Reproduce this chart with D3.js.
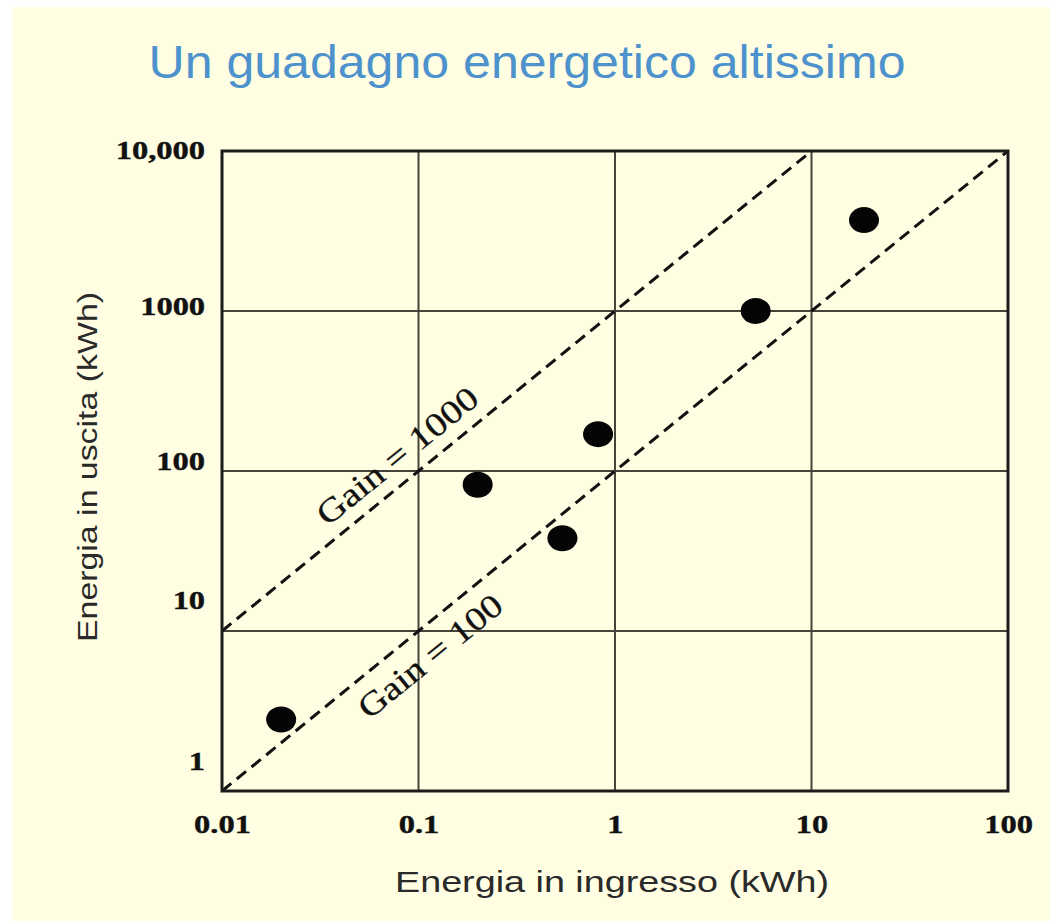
<!DOCTYPE html>
<html>
<head>
<meta charset="utf-8">
<script src="https://cdn.jsdelivr.net/npm/d3@7"></script>
<style>
  body { margin: 0; background: #ffffff; }
  svg { display: block; }
  .tick-label { font-family: "Liberation Serif", "DejaVu Serif", serif; font-weight: bold; font-size: 25px; fill: #111; stroke: #111; stroke-width: 0.4px; }
  .axis-title { font-family: "Liberation Sans", Arial, sans-serif; fill: #2a2a2a; }
  .gain-label { font-family: "Liberation Serif", "DejaVu Serif", serif; font-size: 33px; fill: #111; stroke: #111; stroke-width: 0.3px; }
</style>
</head>
<body>
<div id="chart"></div>
<script>
// data
const xTicks = [0.01, 0.1, 1, 10, 100]
const xTickLabels = ['0.01', '0.1', '1', '10', '100']
const yTicks = [1, 10, 100, 1000, 10000]
const yTickLabels = ['1', '10', '100', '1000', '10,000']

const inputEnergy = [0.02, 0.2, 0.54, 0.82, 5.2, 18.5]
const outputEnergy = [2.8, 82, 38, 170, 1000, 3700]

const gains = [1000, 100]
const gainLabels = ['Gain = 1000', 'Gain = 100']

const title = 'Un guadagno energetico altissimo'
const xTitle = 'Energia in ingresso (kWh)'
const yTitle = 'Energia in uscita (kWh)'

const W = 1050, H = 921
const plot = { left: 222, right: 1008, top: 151, bottom: 791 }

const svg = d3.select('#chart').append('svg')
  .attr('width', W)
  .attr('height', H)

// cream page
svg.append('rect')
  .attr('x', 12).attr('y', 7)
  .attr('width', W - 12).attr('height', H - 7)
  .attr('fill', '#fffee2')

const x = d3.scaleLog().domain([0.01, 100]).range([plot.left, plot.right])
const y = d3.scaleLog().domain([1, 10000]).range([plot.bottom, plot.top])

// title
svg.append('text')
  .attr('x', 527)
  .attr('y', 78)
  .attr('text-anchor', 'middle')
  .attr('textLength', 757)
  .attr('lengthAdjust', 'spacingAndGlyphs')
  .style('font-family', '"Liberation Sans", Arial, sans-serif')
  .style('font-size', '46px')
  .style('fill', '#4d92cc')
  .text(title)

const clip = svg.append('clipPath').attr('id', 'plot-clip')
clip.append('rect')
  .attr('x', plot.left).attr('y', plot.top)
  .attr('width', plot.right - plot.left)
  .attr('height', plot.bottom - plot.top)

// grid lines
svg.append('g')
  .selectAll('line')
  .data(xTicks.slice(1, -1))
  .enter()
  .append('line')
  .attr('x1', d => x(d)).attr('x2', d => x(d))
  .attr('y1', plot.top).attr('y2', plot.bottom)
  .attr('stroke', '#46443a')
  .attr('stroke-width', 2)

svg.append('g')
  .selectAll('line')
  .data(yTicks.slice(1, -1))
  .enter()
  .append('line')
  .attr('x1', plot.left).attr('x2', plot.right)
  .attr('y1', d => y(d)).attr('y2', d => y(d))
  .attr('stroke', '#46443a')
  .attr('stroke-width', 2)

// gain lines (output = gain * input)
const gainLine = d3.line()
  .x(d => x(d[0]))
  .y(d => y(d[1]))

svg.append('g')
  .attr('clip-path', 'url(#plot-clip)')
  .selectAll('path')
  .data(gains)
  .enter()
  .append('path')
  .attr('d', g => gainLine(xTicks.map(v => [v, v * g])))
  .attr('fill', 'none')
  .attr('stroke', '#111')
  .attr('stroke-width', 3)
  .attr('stroke-dasharray', '12,7')

// frame
svg.append('rect')
  .attr('x', plot.left).attr('y', plot.top)
  .attr('width', plot.right - plot.left)
  .attr('height', plot.bottom - plot.top)
  .attr('fill', 'none')
  .attr('stroke', '#1c1c1c')
  .attr('stroke-width', 3)

// gain labels, sitting along the lines
const angle = Math.atan2(y(10000) - y(1), x(100) - x(0.01)) * 180 / Math.PI
const labelAt = [0.094, 0.094]     // input value where each label is centred
const labelOffset = [-14, 38]      // px across the line
const labelLength = [198, 176]

svg.append('g')
  .selectAll('text')
  .data(gains)
  .enter()
  .append('text')
  .attr('class', 'gain-label')
  .attr('transform', (g, i) => `translate(${x(labelAt[i])},${y(labelAt[i] * g)}) rotate(${angle})`)
  .attr('y', (g, i) => labelOffset[i])
  .attr('text-anchor', 'middle')
  .attr('textLength', (g, i) => labelLength[i])
  .attr('lengthAdjust', 'spacingAndGlyphs')
  .text((g, i) => gainLabels[i])

// points
svg.append('g')
  .selectAll('ellipse')
  .data(inputEnergy)
  .enter()
  .append('ellipse')
  .attr('cx', d => x(d))
  .attr('cy', (d, i) => y(outputEnergy[i]))
  .attr('rx', 15)
  .attr('ry', 13)
  .attr('fill', '#050505')

// axes (labels only, grid drawn above)
const yShift = { 1: -30, 10: -31, 100: -10, 1000: -5, 10000: -1 }

const yAxis = svg.append('g')
  .attr('transform', `translate(${plot.left},0)`)
  .call(d3.axisLeft(y)
    .tickValues(yTicks)
    .tickFormat((d, i) => yTickLabels[i])
    .tickSize(0)
    .tickPadding(13))
yAxis.select('.domain').remove()
yAxis.selectAll('text')
  .attr('class', 'tick-label')
  .attr('transform', d => `translate(0,${yShift[d]}) scale(1.3,1)`)

const xAxis = svg.append('g')
  .attr('transform', `translate(0,${plot.bottom})`)
  .call(d3.axisBottom(x)
    .tickValues(xTicks)
    .tickFormat((d, i) => xTickLabels[i])
    .tickSize(0)
    .tickPadding(24))
xAxis.select('.domain').remove()
xAxis.selectAll('text')
  .attr('class', 'tick-label')
  .attr('transform', 'scale(1.3,1)')

// axis titles
svg.append('text')
  .attr('class', 'axis-title')
  .attr('x', 612)
  .attr('y', 892)
  .attr('text-anchor', 'middle')
  .attr('textLength', 434)
  .attr('lengthAdjust', 'spacingAndGlyphs')
  .style('font-size', '30px')
  .text(xTitle)

svg.append('text')
  .attr('class', 'axis-title')
  .attr('transform', 'translate(97,467) rotate(-90)')
  .attr('text-anchor', 'middle')
  .attr('textLength', 350)
  .attr('lengthAdjust', 'spacingAndGlyphs')
  .style('font-size', '27px')
  .text(yTitle)
</script>
</body>
</html>
